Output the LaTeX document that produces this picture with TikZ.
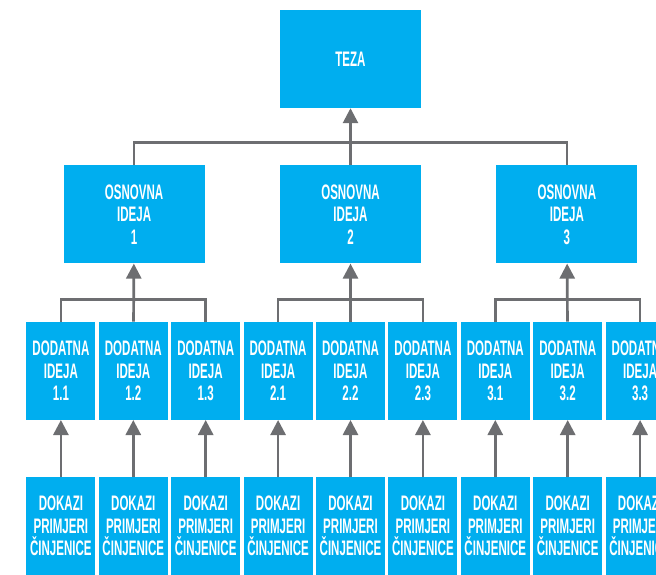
\documentclass[tikz,border=0pt]{standalone}
\usepackage{fontspec}
\newfontfamily\boxfont{Liberation Sans}[FakeStretch=0.55]
\usepackage{tikz}
\usetikzlibrary{arrows.meta, positioning}
\definecolor{boxblue}{RGB}{0,174,239}
\definecolor{linegray}{RGB}{109,110,113}

\begin{document}
\begin{tikzpicture}[
    x=1pt, y=1pt,
    node distance=57pt and 3pt,
    font=\boxfont\bfseries\fontsize{21}{22.5}\selectfont,
    box/.style={fill=boxblue, text=white, align=center, inner sep=0pt, minimum width=141pt, minimum height=98pt},
    small/.style={box, minimum width=69pt},
    conn/.style={draw=linegray, line width=2.7pt},
    arr/.style={conn, -{Triangle[length=15pt, width=15pt]}}]
\clip (0,0) rectangle (656,-575);
\node[box] (teza) at (350.5,-59) {TEZA};
\node[box, below=of teza] (osn2) {OSNOVNA\\IDEJA\\2};
\node[box, left=75pt of osn2] (osn1) {OSNOVNA\\IDEJA\\1};
\node[box, right=75pt of osn2] (osn3) {OSNOVNA\\IDEJA\\3};
% dodatne ideje
\node[small, below=58pt of osn2] (dod22) {DODATNA\\IDEJA\\2.2};
\node[small, left=of dod22] (dod21) {DODATNA\\IDEJA\\2.1};
\node[small, right=of dod22] (dod23) {DODATNA\\IDEJA\\2.3};
\node[small, left=of dod21] (dod13) {DODATNA\\IDEJA\\1.3};
\node[small, left=of dod13] (dod12) {DODATNA\\IDEJA\\1.2};
\node[small, left=of dod12] (dod11) {DODATNA\\IDEJA\\1.1};
\node[small, right=of dod23] (dod31) {DODATNA\\IDEJA\\3.1};
\node[small, right=of dod31] (dod32) {DODATNA\\IDEJA\\3.2};
\node[small, right=of dod32] (dod33) {DODATNA\\IDEJA\\3.3};
% dokazi
\node[small, below=of dod11] (dok11) {DOKAZI\\PRIMJERI\\ČINJENICE};
\node[small, below=of dod12] (dok12) {DOKAZI\\PRIMJERI\\ČINJENICE};
\node[small, below=of dod13] (dok13) {DOKAZI\\PRIMJERI\\ČINJENICE};
\node[small, below=of dod21] (dok21) {DOKAZI\\PRIMJERI\\ČINJENICE};
\node[small, below=of dod22] (dok22) {DOKAZI\\PRIMJERI\\ČINJENICE};
\node[small, below=of dod23] (dok23) {DOKAZI\\PRIMJERI\\ČINJENICE};
\node[small, below=of dod31] (dok31) {DOKAZI\\PRIMJERI\\ČINJENICE};
\node[small, below=of dod32] (dok32) {DOKAZI\\PRIMJERI\\ČINJENICE};
\node[small, below=of dod33] (dok33) {DOKAZI\\PRIMJERI\\ČINJENICE};
% junctions
\coordinate[above=23pt of osn2] (j0);
\coordinate[above=22pt of dod12] (j1);
\coordinate[above=22pt of dod22] (j2);
\coordinate[above=22pt of dod32] (j3);
\draw[conn] (osn1) |- (j0) -| (osn3);
\draw[arr] (osn2) -- (teza);
\draw[conn] (dod11) |- (j1) -| (dod13);
\draw[arr] (dod12) -- (osn1);
\draw[conn] (dod21) |- (j2) -| (dod23);
\draw[arr] (dod22) -- (osn2);
\draw[conn] (dod31) |- (j3) -| (dod33);
\draw[arr] (dod32) -- (osn3);
\draw[arr] (dok11) -- (dod11);
\draw[arr] (dok12) -- (dod12);
\draw[arr] (dok13) -- (dod13);
\draw[arr] (dok21) -- (dod21);
\draw[arr] (dok22) -- (dod22);
\draw[arr] (dok23) -- (dod23);
\draw[arr] (dok31) -- (dod31);
\draw[arr] (dok32) -- (dod32);
\draw[arr] (dok33) -- (dod33);
\end{tikzpicture}
\end{document}
